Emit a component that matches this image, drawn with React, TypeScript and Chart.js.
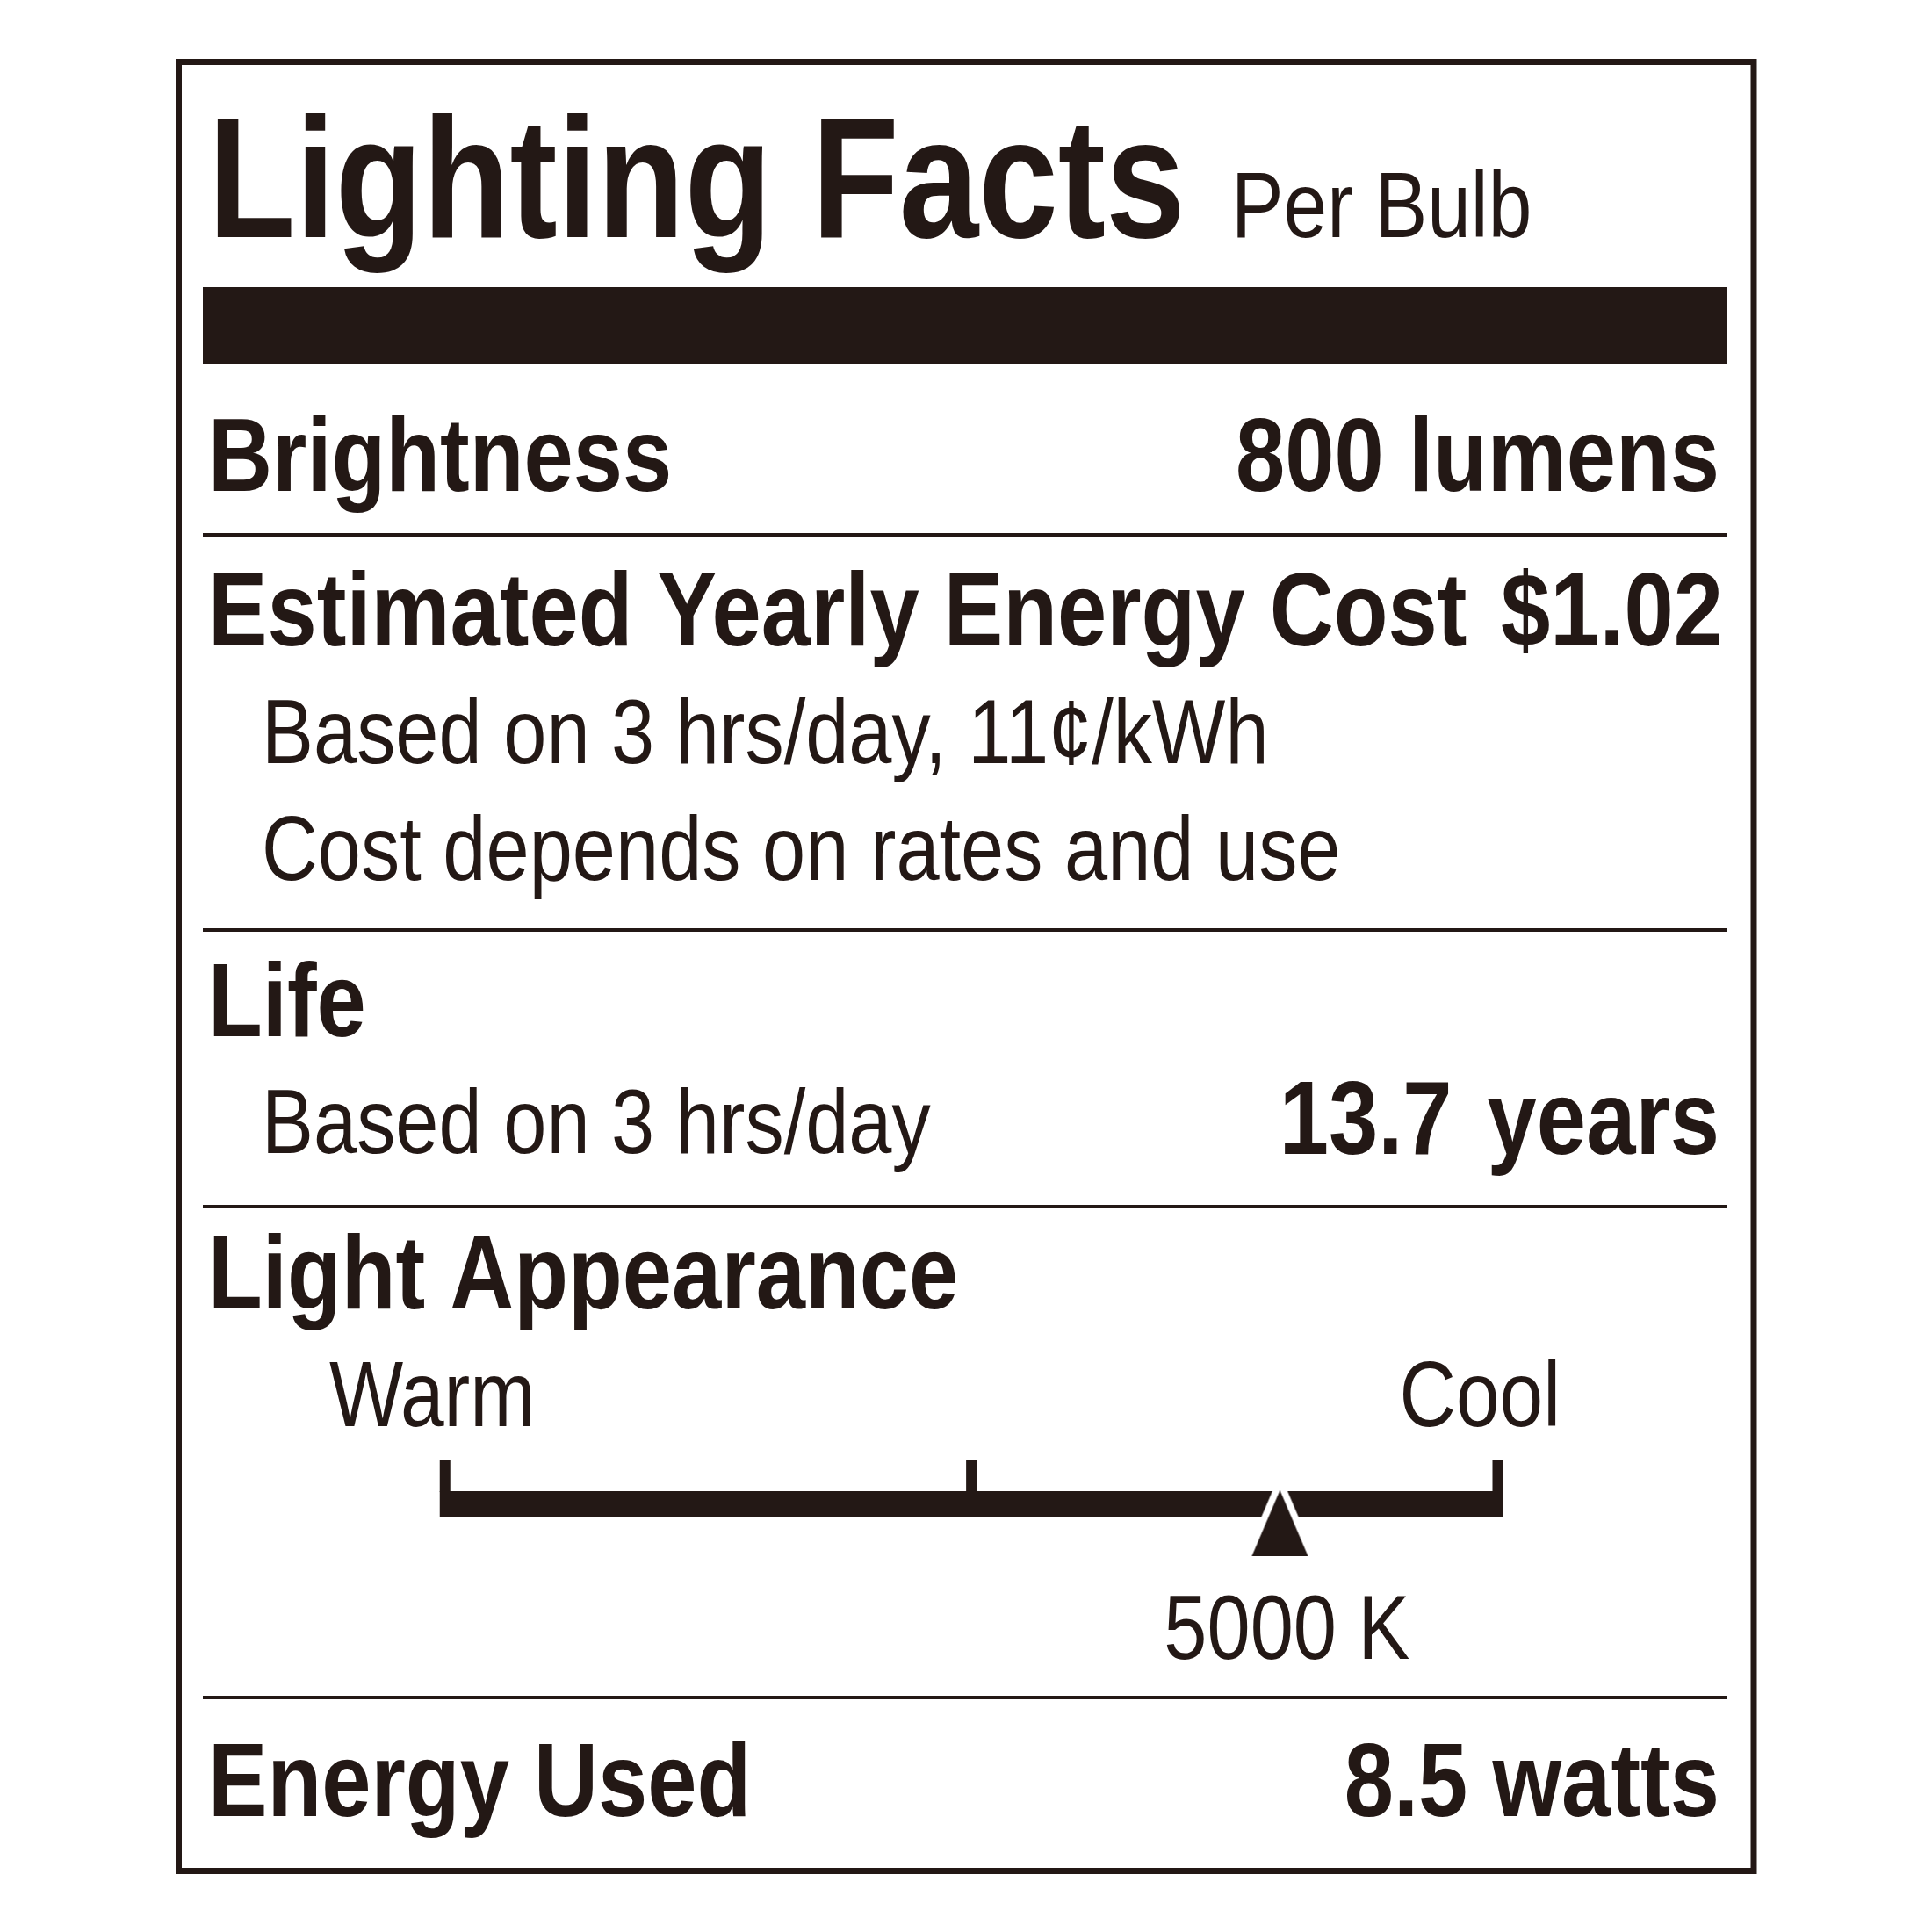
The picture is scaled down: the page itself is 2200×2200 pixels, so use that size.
import React, { useEffect, useRef } from "react";
import { Chart, registerables } from "chart.js";

Chart.register(...registerables);

// ---- content / data ----
const TITLE = "Lighting Facts";
const TITLE_NOTE = "Per Bulb";
const SECTION_LABELS = ["Brightness", "Estimated Yearly Energy Cost", "Life", "Light Appearance", "Energy Used"];
const SECTION_VALUES = ["800 lumens", "$1.02", "", "", "8.5 watts"];
const COST_NOTES = ["Based on 3 hrs/day, 11¢/kWh", "Cost depends on rates and use"];
const LIFE_NOTE = "Based on 3 hrs/day";
const LIFE_VALUE = "13.7 years";
const SCALE_END_LABELS = ["Warm", "Cool"];
const SCALE_TICKS = [2700, 4150, 5600]; // warm end, middle, cool end (K)
const CCT_VALUES = [5000];
const CCT_LABELS = ["5000 K"];

// ---- layout / style ----
const INK = "#231815";
const CONDENSE = 0.85;
const FONT = '"Liberation Sans", Arial, Helvetica, sans-serif';
const W = 2200;
const H = 2200;
const REG_SIZE = 104;

function drawText(
  ctx: CanvasRenderingContext2D,
  s: string,
  x: number,
  y: number,
  size: number,
  bold: boolean,
  align: CanvasTextAlign = "left",
  sx: number = CONDENSE,
  wordSpacing: number = 0
) {
  ctx.save();
  ctx.translate(x, y);
  ctx.scale(sx, 1);
  ctx.font = `${bold ? "bold " : ""}${size}px ${FONT}`;
  ctx.textAlign = align;
  ctx.textBaseline = "alphabetic";
  ctx.fillStyle = INK;
  if (wordSpacing) (ctx as any).wordSpacing = `${wordSpacing}px`;
  ctx.fillText(s, 0, 0);
  ctx.restore();
}

function makeTriangle(): HTMLCanvasElement {
  const tw = 64;
  const th = 75;
  const pad = 10;
  const c = document.createElement("canvas");
  c.width = tw + pad * 2;
  c.height = th + pad * 2;
  const g = c.getContext("2d")!;
  g.beginPath();
  g.moveTo(pad + tw / 2, pad);
  g.lineTo(pad + tw, pad + th);
  g.lineTo(pad, pad + th);
  g.closePath();
  g.strokeStyle = "#ffffff";
  g.lineWidth = 15;
  g.lineJoin = "miter";
  g.stroke();
  g.fillStyle = INK;
  g.fill();
  return c;
}

const labelPlugin = {
  id: "lightingFactsLabel",
  beforeDraw(chart: any) {
    const ctx: CanvasRenderingContext2D = chart.ctx;
    ctx.save();
    ctx.fillStyle = "#ffffff";
    ctx.fillRect(0, 0, W, H);

    // outer border
    ctx.strokeStyle = INK;
    ctx.lineWidth = 7;
    ctx.strokeRect(203.5, 70.5, 1793.5, 2060);

    // heavy bar under title
    ctx.fillStyle = INK;
    ctx.fillRect(231, 327, 1736, 88);

    // thin rules
    [609, 1059, 1374, 1933].forEach((y) => ctx.fillRect(231, y - 2, 1736, 4));
    ctx.restore();

    // title
    drawText(ctx, TITLE, 237, 270, 195, true, "left", 0.835);
    drawText(ctx, TITLE_NOTE, 1402, 270, 105, false);

    const LX = 237;
    const RX = 1958;
    const BOLD = 119;

    // Brightness
    drawText(ctx, SECTION_LABELS[0], LX, 559, BOLD, true);
    drawText(ctx, SECTION_VALUES[0], RX, 559, BOLD, true, "right");

    // Cost
    drawText(ctx, SECTION_LABELS[1], LX, 735, BOLD, true);
    drawText(ctx, SECTION_VALUES[1], RX + 4, 735, BOLD, true, "right");
    drawText(ctx, COST_NOTES[0], 298, 869, REG_SIZE, false);
    drawText(ctx, COST_NOTES[1], 298, 1002, REG_SIZE, false);

    // Life
    drawText(ctx, SECTION_LABELS[2], LX, 1180, BOLD, true);
    drawText(ctx, LIFE_NOTE, 298, 1313, REG_SIZE, false);
    drawText(ctx, LIFE_VALUE, RX, 1314, BOLD, true, "right", CONDENSE, 14);

    // Light appearance
    drawText(ctx, SECTION_LABELS[3], LX, 1490, BOLD, true);
    drawText(ctx, SCALE_END_LABELS[0], 375, 1624, 105, false);
    drawText(ctx, SCALE_END_LABELS[1], 1777, 1624, 105, false, "right");

    // Energy used
    drawText(ctx, SECTION_LABELS[4], LX, 2068, BOLD, true);
    drawText(ctx, SECTION_VALUES[4], RX, 2068, BOLD, true, "right");
  },
  beforeDatasetsDraw(chart: any) {
    const ctx: CanvasRenderingContext2D = chart.ctx;
    const xs = chart.scales.x;
    const tickW = 12;
    const barTop = 1698;
    const barH = 29;
    const tickTop = 1663;
    const x0 = xs.getPixelForValue(SCALE_TICKS[0]);
    const x1 = xs.getPixelForValue(SCALE_TICKS[SCALE_TICKS.length - 1]);
    ctx.save();
    ctx.fillStyle = INK;
    ctx.fillRect(x0 - tickW / 2, barTop, x1 - x0 + tickW, barH);
    SCALE_TICKS.forEach((t) => {
      const px = xs.getPixelForValue(t);
      ctx.fillRect(px - tickW / 2, tickTop, tickW, barTop - tickTop + 1);
    });
    ctx.restore();
  },
  afterDatasetsDraw(chart: any) {
    const ctx: CanvasRenderingContext2D = chart.ctx;
    const xs = chart.scales.x;
    CCT_VALUES.forEach((v, i) => {
      const px = xs.getPixelForValue(v);
      drawText(ctx, CCT_LABELS[i], px + 148, 1889, REG_SIZE, false, "right");
    });
  },
};

export default function App() {
  const ref = useRef<HTMLCanvasElement | null>(null);

  useEffect(() => {
    if (!ref.current) return;
    const tri = makeTriangle();
    const chart = new Chart(ref.current, {
      type: "scatter",
      data: {
        datasets: [
          {
            label: "CCT",
            data: CCT_VALUES.map((v) => ({ x: v, y: 0 })),
            pointStyle: tri as any,
            radius: 40,
            backgroundColor: INK,
            borderWidth: 0,
            clip: false as any,
          },
        ],
      },
      options: {
        responsive: false,
        maintainAspectRatio: false,
        animation: false,
        devicePixelRatio: 1,
        events: [],
        layout: {
          padding: { left: 506.75, right: W - 1705.5, top: 1600, bottom: H - 1869 },
        },
        plugins: {
          legend: { display: false },
          tooltip: { enabled: false },
        },
        scales: {
          x: {
            type: "linear",
            min: SCALE_TICKS[0],
            max: SCALE_TICKS[SCALE_TICKS.length - 1],
            display: false,
          },
          y: { type: "linear", min: -1, max: 1, display: false },
        },
      },
      plugins: [labelPlugin],
    });
    return () => chart.destroy();
  }, []);

  return (
    <div style={{ width: W, height: H }}>
      <canvas
        ref={ref}
        width={W}
        height={H}
        style={{ position: "absolute", left: 0, top: 0, width: W, height: H, display: "block" }}
      />
    </div>
  );
}
